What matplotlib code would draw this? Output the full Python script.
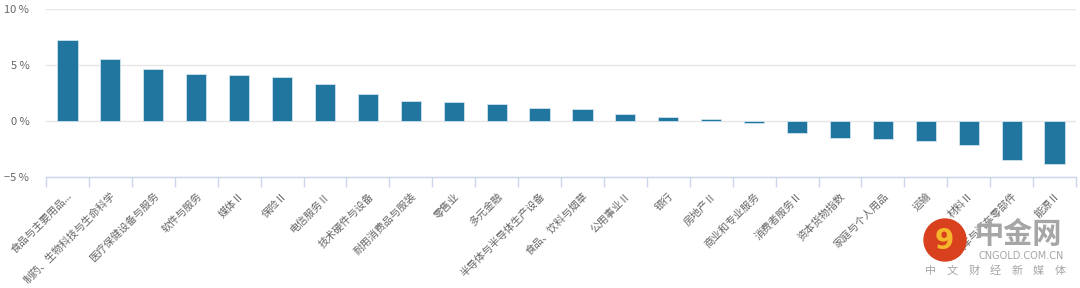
import matplotlib
matplotlib.use('Agg')
import matplotlib.pyplot as plt
from matplotlib.patches import Ellipse
import numpy as np

plt.rcParams['font.family'] = ['Noto Sans CJK SC', 'DejaVu Sans']

categories = ['食品与主要用品...', '制药、生物科技与生命科学', '医疗保健设备与服务', '软件与服务',
              '媒体Ⅱ', '保险Ⅱ', '电信服务Ⅱ', '技术硬件与设备', '耐用消费品与服装', '零售业',
              '多元金融', '半导体与半导体生产设备', '食品、饮料与烟草', '公用事业Ⅱ', '银行',
              '房地产Ⅱ', '商业和专业服务', '消费者服务Ⅱ', '资本货物指数', '家庭与个人用品',
              '运输', '材料Ⅱ', '汽车与汽车零部件', '能源Ⅱ']
values = [7.2, 5.54, 4.67, 4.16, 4.07, 3.93, 3.30, 2.38, 1.81, 1.72, 1.54, 1.19,
          1.10, 0.62, 0.36, 0.2, -0.21, -1.07, -1.49, -1.58, -1.76, -2.14, -3.51, -3.84]
y_ticks = [-5, 0, 5, 10]

bar_color = '#2176a0'
label_color = '#666666'
axis_color = '#ccd6eb'
mark_color = '#a6a6a6'

W, H = 1080, 288
fig = plt.figure(figsize=(W / 100, H / 100), dpi=100)
ax = fig.add_axes([46 / W, 1 - 177 / H, 1030 / W, 168 / H])

x = np.arange(len(categories))
ax.bar(x, values, width=0.47, color=bar_color, edgecolor='#cfe3ee', linewidth=0.6, zorder=3)

ax.set_xlim(-0.5, len(categories) - 0.5)
ax.set_ylim(-5, 10)
ax.set_yticks(y_ticks)
ax.set_yticklabels([f'{t} %'.replace('-', '−') for t in y_ticks], color=label_color, fontsize=8)
ax.tick_params(axis='y', length=0, pad=12)
ax.yaxis.grid(True, color='#e6e6e6', linewidth=1, zorder=0)

ax.set_xticks(x)
ax.set_xticklabels(categories, rotation=45, ha='right', va='top', rotation_mode='anchor',
                   color=label_color, fontsize=7.5)
ax.tick_params(axis='x', which='major', length=0, pad=10)
ax.set_xticks(np.arange(len(categories) + 1) - 0.5, minor=True)
ax.tick_params(axis='x', which='minor', length=7, color=axis_color, width=1)

for side in ['top', 'right', 'left']:
    ax.spines[side].set_visible(False)
ax.spines['bottom'].set_color(axis_color)
ax.spines['bottom'].set_linewidth(1)

# watermark
logo = Ellipse((945 / W, 1 - 240 / H), 42 / W, 42 / H, transform=fig.transFigure,
               color='#d9411e', zorder=10)
fig.add_artist(logo)
fig.text(944 / W, 1 - 241 / H, '9', ha='center', va='center', fontsize=20,
         fontweight='bold', color='#f6b62c', family='DejaVu Sans', zorder=11)
fig.text(1018 / W, 1 - 234 / H, '中金网', ha='center', va='center', fontsize=21,
         fontweight='bold', color=mark_color)
fig.text(1021 / W, 1 - 256 / H, 'CNGOLD.COM.CN', ha='center', va='center', fontsize=7,
         color=mark_color, family='DejaVu Sans')
for i, ch in enumerate('中文财经新媒体'):
    fig.text((931 + i * 21.5) / W, 1 - 271 / H, ch, ha='center', va='center',
             fontsize=8, color=mark_color)

fig.savefig('out.png', dpi=100)
